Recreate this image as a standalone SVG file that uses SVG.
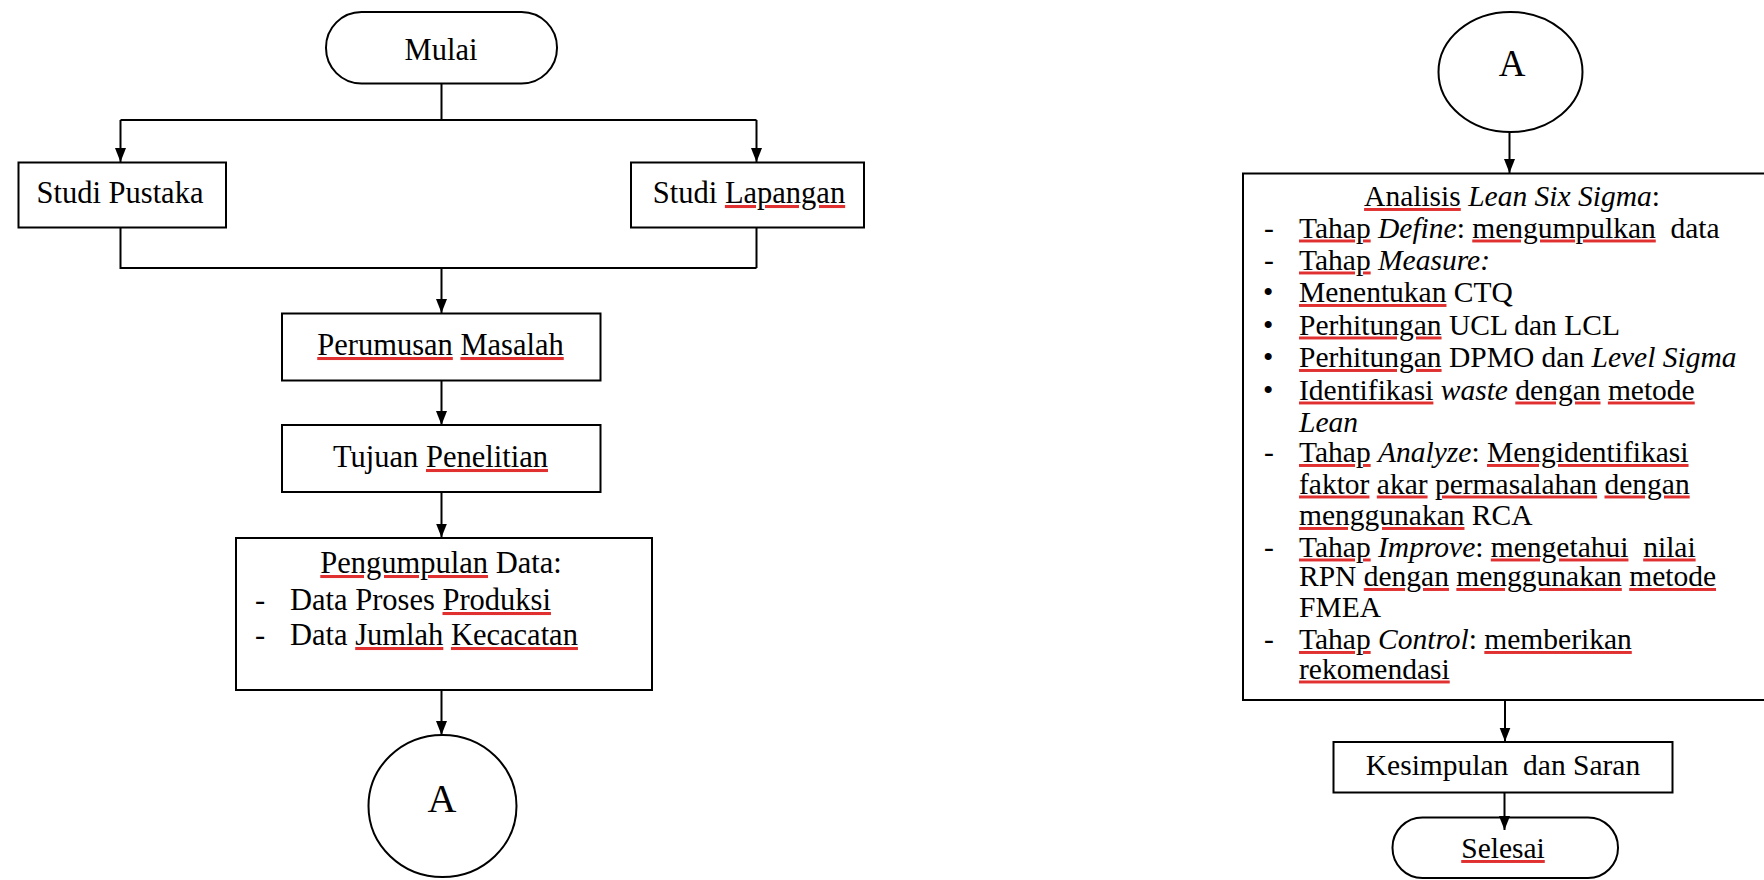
<svg xmlns="http://www.w3.org/2000/svg" width="1764" height="880" viewBox="0 0 1764 880">
<style>
.box{fill:#fff;stroke:#000;stroke-width:2}
.ln{fill:none;stroke:#000;stroke-width:2}
.t{font-family:"Liberation Serif","Times New Roman",serif;font-size:30.5px;fill:#000}
.r{font-size:29.5px}
.m{text-anchor:middle}
.i{font-style:italic}
.sp{text-decoration:underline;fill:#e03030}
.sp tspan{fill:#000}
</style>
<defs>
<marker id="ah" markerUnits="userSpaceOnUse" markerWidth="14" markerHeight="12" refX="14" refY="6" orient="auto">
<path d="M0,0.5 L14,6 L0,11.5 z" fill="#000"/>
</marker>
</defs>
<rect width="1764" height="880" fill="#fff"/>

<g id="connectors">
<path class="ln" d="M441.5,83.5 V120 M120.5,120 H756.5"/>
<path class="ln" d="M120.5,120 V162" marker-end="url(#ah)"/>
<path class="ln" d="M756.5,120 V162" marker-end="url(#ah)"/>
<path class="ln" d="M120.5,227.5 V268 H756.5 M756.5,227.5 V268"/>
<path class="ln" d="M441.5,268 V313" marker-end="url(#ah)"/>
<path class="ln" d="M441.5,381 V425" marker-end="url(#ah)"/>
<path class="ln" d="M441.5,492.5 V537.5" marker-end="url(#ah)"/>
<path class="ln" d="M441.5,690 V735" marker-end="url(#ah)"/>
<path class="ln" d="M1509.5,132 V173" marker-end="url(#ah)"/>
<path class="ln" d="M1505,700 V741.5" marker-end="url(#ah)"/>
</g>

<g id="mulai">
<rect class="box" x="326" y="12" width="231" height="71.5" rx="35.5"/>
<text class="t m" x="441" y="60">Mulai</text>
</g>

<g id="studi-pustaka">
<rect class="box" x="18.5" y="162.5" width="207.5" height="65"/>
<text class="t m" x="120" y="203">Studi Pustaka</text>
</g>

<g id="studi-lapangan">
<rect class="box" x="631" y="162.5" width="233" height="65"/>
<text class="t m" x="749" y="203">Studi <tspan class="sp"><tspan>Lapangan</tspan></tspan></text>
</g>

<g id="perumusan-masalah">
<rect class="box" x="282" y="313.5" width="318.5" height="67"/>
<text class="t m" x="440.5" y="355"><tspan class="sp"><tspan>Perumusan</tspan></tspan> <tspan class="sp"><tspan>Masalah</tspan></tspan></text>
</g>

<g id="tujuan-penelitian">
<rect class="box" x="282" y="425" width="318.5" height="67"/>
<text class="t m" x="440.5" y="467">Tujuan <tspan class="sp"><tspan>Penelitian</tspan></tspan></text>
</g>

<g id="pengumpulan-data">
<rect class="box" x="236" y="538" width="416" height="152"/>
<text class="t m" x="441" y="573"><tspan class="sp"><tspan>Pengumpulan</tspan></tspan> Data:</text>
<text class="t" x="255" y="610">-</text>
<text class="t" x="290" y="610">Data Proses <tspan class="sp"><tspan>Produksi</tspan></tspan></text>
<text class="t" x="255" y="645">-</text>
<text class="t" x="290" y="645">Data <tspan class="sp"><tspan>Jumlah</tspan></tspan> <tspan class="sp"><tspan>Kecacatan</tspan></tspan></text>
</g>

<g id="connector-a-left">
<ellipse class="box" cx="442.5" cy="806" rx="74" ry="71"/>
<text class="t m" x="442" y="812" style="font-size:40px">A</text>
</g>

<g id="connector-a-right">
<ellipse class="box" cx="1510.5" cy="72" rx="72" ry="60"/>
<text class="t m" x="1512" y="76" style="font-size:37px">A</text>
</g>

<g id="analisis">
<rect class="box" x="1243" y="173.5" width="530" height="526.5"/>
<text class="t r m" x="1512" y="206"><tspan class="sp"><tspan>Analisis</tspan></tspan> <tspan class="i">Lean Six Sigma</tspan>:</text>
<text class="t r" x="1264" y="237.5">-</text>
<text class="t r" x="1299" y="237.5"><tspan class="sp"><tspan>Tahap</tspan></tspan> <tspan class="i">Define</tspan>: <tspan class="sp"><tspan>mengumpulkan</tspan></tspan>&#160; data</text>
<text class="t r" x="1264" y="269.5">-</text>
<text class="t r" x="1299" y="269.5"><tspan class="sp"><tspan>Tahap</tspan></tspan> <tspan class="i">Measure:</tspan></text>
<text class="t r" x="1263" y="302">•</text>
<text class="t r" x="1299" y="302"><tspan class="sp"><tspan>Menentukan</tspan></tspan> CTQ</text>
<text class="t r" x="1263" y="334.5">•</text>
<text class="t r" x="1299" y="334.5"><tspan class="sp"><tspan>Perhitungan</tspan></tspan> UCL dan LCL</text>
<text class="t r" x="1263" y="367">•</text>
<text class="t r" x="1299" y="367"><tspan class="sp"><tspan>Perhitungan</tspan></tspan> DPMO dan <tspan class="i">Level Sigma</tspan></text>
<text class="t r" x="1263" y="399.5">•</text>
<text class="t r" x="1299" y="399.5"><tspan class="sp"><tspan>Identifikasi</tspan></tspan> <tspan class="i">waste</tspan> <tspan class="sp"><tspan>dengan</tspan></tspan> <tspan class="sp"><tspan>metode</tspan></tspan></text>
<text class="t r i" x="1299" y="431.5">Lean</text>
<text class="t r" x="1264" y="462">-</text>
<text class="t r" x="1299" y="462"><tspan class="sp"><tspan>Tahap</tspan></tspan> <tspan class="i">Analyze</tspan>: <tspan class="sp"><tspan>Mengidentifikasi</tspan></tspan></text>
<text class="t r" x="1299" y="493.5"><tspan class="sp"><tspan>faktor</tspan></tspan> <tspan class="sp"><tspan>akar</tspan></tspan> <tspan class="sp"><tspan>permasalahan</tspan></tspan> <tspan class="sp"><tspan>dengan</tspan></tspan></text>
<text class="t r" x="1299" y="525"><tspan class="sp"><tspan>menggunakan</tspan></tspan> RCA</text>
<text class="t r" x="1264" y="556.5">-</text>
<text class="t r" x="1299" y="556.5"><tspan class="sp"><tspan>Tahap</tspan></tspan> <tspan class="i">Improve</tspan>: <tspan class="sp"><tspan>mengetahui</tspan></tspan>&#160; <tspan class="sp"><tspan>nilai</tspan></tspan></text>
<text class="t r" x="1299" y="586">RPN <tspan class="sp"><tspan>dengan</tspan></tspan> <tspan class="sp"><tspan>menggunakan</tspan></tspan> <tspan class="sp"><tspan>metode</tspan></tspan></text>
<text class="t r" x="1299" y="617">FMEA</text>
<text class="t r" x="1264" y="649">-</text>
<text class="t r" x="1299" y="649"><tspan class="sp"><tspan>Tahap</tspan></tspan> <tspan class="i">Control</tspan>: <tspan class="sp"><tspan>memberikan</tspan></tspan></text>
<text class="t r" x="1299" y="678.5"><tspan class="sp"><tspan>rekomendasi</tspan></tspan></text>
</g>

<g id="kesimpulan">
<rect class="box" x="1333.5" y="742" width="339" height="50.5"/>
<text class="t r m" x="1503" y="775">Kesimpulan&#160; dan Saran</text>
</g>

<g id="selesai">
<rect class="box" x="1392.5" y="817.5" width="225.5" height="60.5" rx="30"/>
<text class="t r m" x="1503" y="858"><tspan class="sp"><tspan>Selesai</tspan></tspan></text>
</g>

<g id="connectors-top">
<path class="ln" d="M1504.5,792.5 V830" marker-end="url(#ah)"/>
</g>
</svg>
